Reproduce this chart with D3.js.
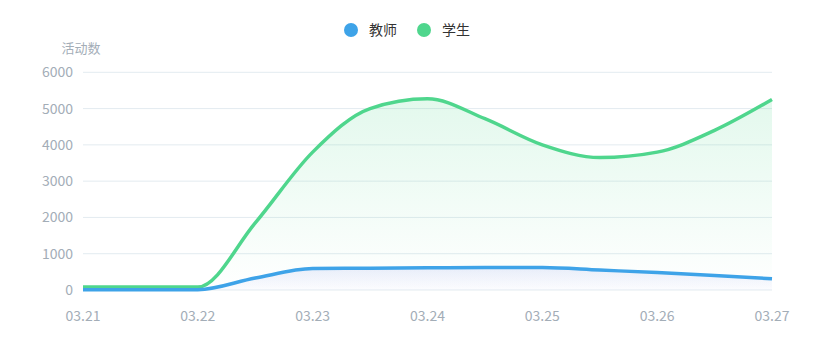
<!DOCTYPE html>
<html><head><meta charset="utf-8">
<script src="https://cdn.jsdelivr.net/npm/d3@7/dist/d3.min.js"></script>
<style>
html,body{margin:0;padding:0;background:#fff;}
svg text{font-family:"Noto Sans CJK SC","Noto Sans",sans-serif;}
</style></head>
<body><svg id="c" width="813" height="360"></svg>
<script>
// categories: half-day steps, labels shown on whole days
const categories = ["03.21","03.21.5","03.22","03.22.5","03.23","03.23.5","03.24","03.24.5","03.25","03.25.5","03.26","03.26.5","03.27"];
const tickLabels = ["03.21","03.22","03.23","03.24","03.25","03.26","03.27"];
const teacher = [10,10,10,330,590,600,610,620,620,550,480,400,310];
const student = [80,80,80,1850,3800,5000,5270,4720,4000,3650,3800,4400,5250];
const yTicks = [0,1000,2000,3000,4000,5000,6000];
const seriesNames = ["教师","学生"];
const colors = ["#3ea3e8","#4fd68d"];

(function(){
const svg = d3.select("#c");
const pL=83,pR=772,pT=72.3,pB=290;
const x = d3.scalePoint().domain(categories).range([pL,pR]);
const y = d3.scaleLinear().domain([0,6000]).range([pB,pT]);

const defs = svg.append("defs");
const g1 = defs.append("linearGradient").attr("id","gGreen").attr("x1",0).attr("y1",0).attr("x2",0).attr("y2",1);
g1.append("stop").attr("offset","0%").attr("stop-color","#4fd68d").attr("stop-opacity",0.16);
g1.append("stop").attr("offset","100%").attr("stop-color","#4fd68d").attr("stop-opacity",0.0);
const g2 = defs.append("linearGradient").attr("id","gBlue").attr("x1",0).attr("y1",0).attr("x2",0).attr("y2",1);
g2.append("stop").attr("offset","0%").attr("stop-color","#5a70e0").attr("stop-opacity",0.12);
g2.append("stop").attr("offset","100%").attr("stop-color","#5a70e0").attr("stop-opacity",0.02);

svg.append("g").selectAll("line").data(yTicks).join("line")
  .attr("x1",pL).attr("x2",pR).attr("y1",d=>y(d)).attr("y2",d=>y(d))
  .attr("stroke","#e3ebf0").attr("stroke-width",1);

svg.append("g").selectAll("text").data(yTicks).join("text")
  .attr("x",73).attr("y",d=>y(d)).attr("dy","0.36em").attr("text-anchor","end")
  .attr("font-size",14).attr("fill","#a3adb7").text(d=>d);
svg.append("text").attr("x",81).attr("y",53).attr("text-anchor","middle")
  .attr("font-size",13).attr("fill","#a3adb7").text("活动数");

svg.append("g").selectAll("text").data(tickLabels).join("text")
  .attr("x",d=>x(d)).attr("y",321).attr("text-anchor","middle")
  .attr("font-size",14).attr("fill","#a3adb7").text(d=>d);

const curve = d3.curveMonotoneX;
const area = d3.area().x((d,i)=>x(categories[i])).y0(y(0)).y1(d=>y(d)).curve(curve);
const line = d3.line().x((d,i)=>x(categories[i])).y(d=>y(d)).curve(curve);

svg.append("path").attr("d",area(student)).attr("fill","url(#gGreen)");
svg.append("path").attr("d",area(teacher)).attr("fill","url(#gBlue)");
svg.append("path").attr("d",line(student)).attr("fill","none").attr("stroke",colors[1]).attr("stroke-width",3.5).attr("stroke-linejoin","round");
svg.append("path").attr("d",line(teacher)).attr("fill","none").attr("stroke",colors[0]).attr("stroke-width",3.5).attr("stroke-linejoin","round");

const legX = [351,424];
const lg = svg.append("g");
seriesNames.forEach((n,i)=>{
  lg.append("circle").attr("cx",legX[i]).attr("cy",30).attr("r",7).attr("fill",colors[i]);
  lg.append("text").attr("x",legX[i]+18).attr("y",30).attr("dy","0.36em").attr("font-size",14).attr("fill","#333").text(n);
});
})();
</script></body></html>
